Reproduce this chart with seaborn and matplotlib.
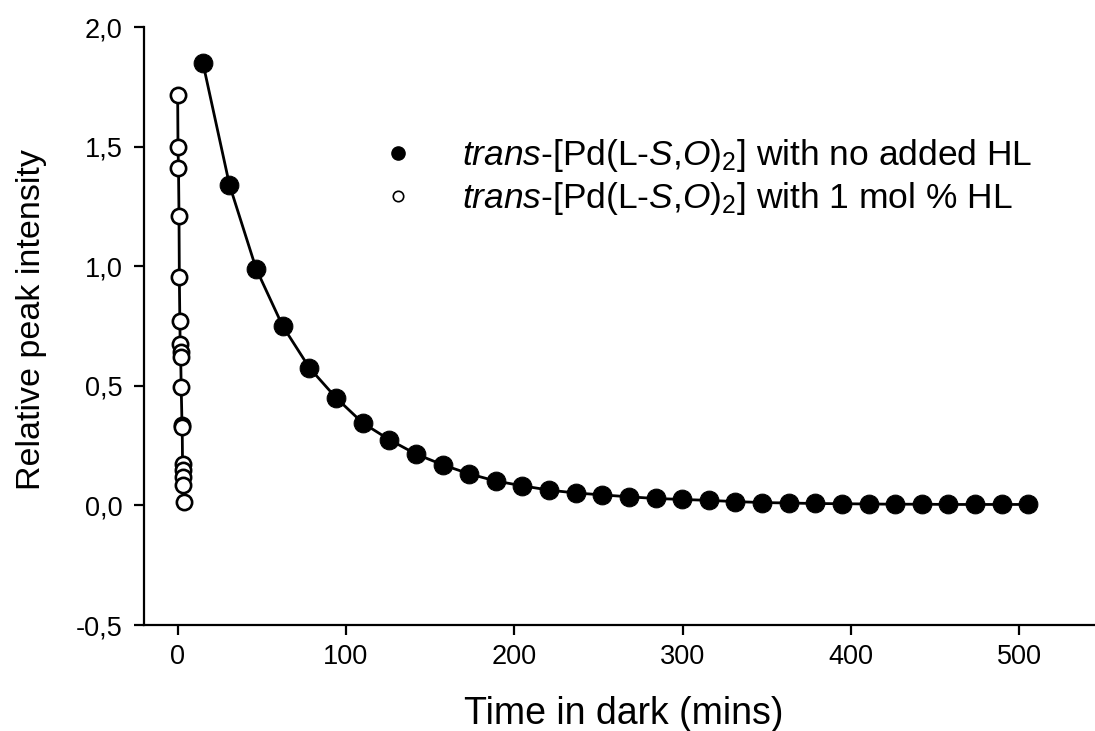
import matplotlib
matplotlib.use("Agg")
import matplotlib.pyplot as plt
from matplotlib.lines import Line2D
from matplotlib.ticker import FuncFormatter
import seaborn as sns
import pandas as pd

# Data: filled circles (no added HL)
time_none = [15.0, 30.8, 46.6, 62.4, 78.3, 94.1, 109.9, 125.7, 141.5, 157.4,
             173.2, 189.0, 204.8, 220.6, 236.5, 252.3, 268.1, 283.9, 299.7, 315.6,
             331.4, 347.2, 363.0, 378.8, 394.7, 410.5, 426.3, 442.1, 457.9, 473.8,
             489.6, 505.4]
int_none = [1.85, 1.34, 0.99, 0.75, 0.575, 0.45, 0.345, 0.275, 0.215, 0.17,
            0.132, 0.102, 0.082, 0.064, 0.052, 0.044, 0.036, 0.029, 0.025, 0.021,
            0.016, 0.012, 0.010, 0.008, 0.007, 0.006, 0.005, 0.005, 0.004, 0.004,
            0.004, 0.004]

# Data: open circles (1 mol % HL)
time_hl = [0.0, 0.2, 0.5, 0.8, 1.0, 1.3, 1.5, 1.7, 1.8, 2.1, 2.6, 2.7, 2.9,
           3.0, 3.2, 3.4, 3.8]
int_hl = [1.715, 1.50, 1.41, 1.21, 0.953, 0.772, 0.675, 0.64, 0.62, 0.495,
          0.335, 0.328, 0.175, 0.147, 0.12, 0.085, 0.015]

x_ticks = [0, 100, 200, 300, 400, 500]
y_ticks = [-0.5, 0.0, 0.5, 1.0, 1.5, 2.0]

label_none = r"$\it{trans}$-[Pd(L-$\it{S}$,$\it{O}$)$_2$] with no added HL"
label_hl = r"$\it{trans}$-[Pd(L-$\it{S}$,$\it{O}$)$_2$] with 1 mol % HL"

sns.set_style("ticks")
plt.rcParams["font.family"] = ["Liberation Sans", "DejaVu Sans"]
plt.rcParams["mathtext.fontset"] = "custom"
plt.rcParams["mathtext.rm"] = "Liberation Sans"
plt.rcParams["mathtext.it"] = "Liberation Sans:italic"
for key in ["text.color", "axes.labelcolor", "xtick.color", "ytick.color", "axes.edgecolor"]:
    plt.rcParams[key] = "black"

df_none = pd.DataFrame({"t": time_none, "v": int_none})
df_hl = pd.DataFrame({"t": time_hl, "v": int_hl})

fig = plt.figure(figsize=(10.95, 7.31), dpi=100)
ax = fig.add_axes([0.1315, 0.145, 0.8685, 0.818])

sns.lineplot(data=df_none, x="t", y="v", ax=ax, estimator=None, sort=False,
             color="black", linewidth=2, marker="o", markersize=13.5,
             markerfacecolor="black", markeredgecolor="black")
sns.lineplot(data=df_hl, x="t", y="v", ax=ax, estimator=None, sort=False,
             color="black", linewidth=2, marker="o", markersize=11,
             markerfacecolor="white", markeredgecolor="black", markeredgewidth=1.9)

ax.set_xlim(-20, 545)
ax.set_ylim(-0.5, 2.0)
ax.set_xticks(x_ticks)
ax.set_yticks(y_ticks)
ax.yaxis.set_major_formatter(FuncFormatter(lambda v, p: f"{v:.1f}".replace(".", ",")))

for side in ["top", "right"]:
    ax.spines[side].set_visible(False)
for side in ["left", "bottom"]:
    ax.spines[side].set_linewidth(1.6)
ax.tick_params(axis="both", direction="out", length=7.5, width=1.6, labelsize=19.5)
ax.tick_params(axis="x", pad=6)
ax.tick_params(axis="y", pad=8)

ax.set_xlabel("Time in dark (mins)", fontsize=27)
ax.set_ylabel("Relative peak intensity", fontsize=24.5)
ax.xaxis.set_label_coords(0.504, -0.118)
ax.yaxis.set_label_coords(-0.102, 0.51)

handles = [
    Line2D([], [], linestyle="none", marker="o", markersize=9.5,
           markerfacecolor="black", markeredgecolor="black"),
    Line2D([], [], linestyle="none", marker="o", markersize=7.5,
           markerfacecolor="white", markeredgecolor="black", markeredgewidth=1.2),
]
ax.legend(handles, [label_none, label_hl], loc="upper left",
          bbox_to_anchor=(380 / 1095, 1 - 137 / 731), bbox_transform=fig.transFigure,
          frameon=False, fontsize=25.5, handlelength=1.0, handletextpad=1.31,
          labelspacing=0.17, borderpad=0, borderaxespad=0)

fig.savefig("out.png", dpi=100)
